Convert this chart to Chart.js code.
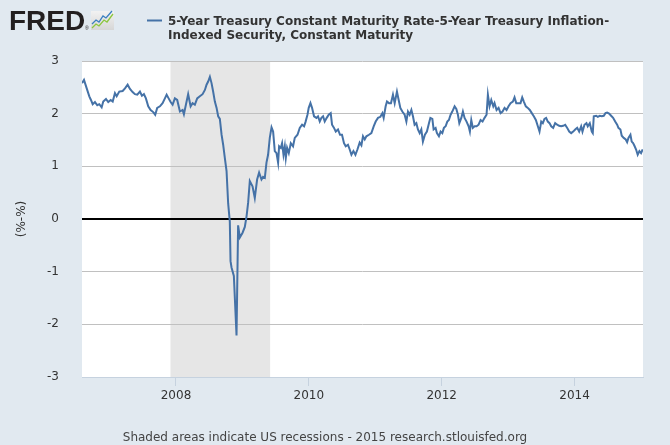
<!DOCTYPE html>
<html>
<head>
<meta charset="utf-8">
<title>5-Year Breakeven Inflation</title>
<script src="https://cdn.jsdelivr.net/npm/chart.js@4.4.1/dist/chart.umd.min.js"></script>
<style>
  html, body { margin: 0; padding: 0; background: #e1e9f0; }
  #wrap { width: 670px; height: 445px; }
</style>
</head>
<body>
<div id="wrap"><canvas id="spreadChart" width="670" height="445"></canvas></div>
<script>
// --- DATA ---
// dates as decimal years, values in percentage points
const dates = [
  2006.585, 2006.615, 2006.656, 2006.695, 2006.720, 2006.746, 2006.780, 2006.815, 2006.845, 2006.881,
  2006.905, 2006.946, 2006.980, 2007.017, 2007.047, 2007.081, 2007.107, 2007.146, 2007.197, 2007.232,
  2007.272, 2007.307, 2007.347, 2007.382, 2007.417, 2007.457, 2007.487, 2007.517, 2007.547, 2007.582,
  2007.618, 2007.657, 2007.687, 2007.717, 2007.758, 2007.798, 2007.833, 2007.859, 2007.889, 2007.919,
  2007.949, 2007.983, 2008.018, 2008.059, 2008.099, 2008.119, 2008.149, 2008.183, 2008.220, 2008.250,
  2008.284, 2008.319, 2008.359, 2008.400, 2008.435, 2008.460, 2008.484, 2008.510, 2008.535, 2008.559,
  2008.585, 2008.611, 2008.635, 2008.660, 2008.686, 2008.710, 2008.735, 2008.761, 2008.785, 2008.810,
  2008.821, 2008.836, 2008.871, 2008.911, 2008.935, 2008.961, 2009.002, 2009.036, 2009.062, 2009.086,
  2009.111, 2009.152, 2009.186, 2009.221, 2009.251, 2009.287, 2009.311, 2009.337, 2009.362, 2009.386,
  2009.412, 2009.438, 2009.462, 2009.487, 2009.513, 2009.537, 2009.552, 2009.577, 2009.597, 2009.618,
  2009.638, 2009.653, 2009.672, 2009.698, 2009.728, 2009.762, 2009.788, 2009.829, 2009.863, 2009.898,
  2009.928, 2009.949, 2009.979, 2009.998, 2010.024, 2010.048, 2010.078, 2010.114, 2010.138, 2010.164,
  2010.189, 2010.214, 2010.239, 2010.269, 2010.299, 2010.329, 2010.349, 2010.379, 2010.405, 2010.439,
  2010.469, 2010.499, 2010.529, 2010.555, 2010.589, 2010.615, 2010.641, 2010.671, 2010.701, 2010.731,
  2010.765, 2010.791, 2010.815, 2010.841, 2010.866, 2010.905, 2010.941, 2010.976, 2011.006, 2011.041,
  2011.077, 2011.107, 2011.126, 2011.156, 2011.176, 2011.206, 2011.236, 2011.266, 2011.292, 2011.326,
  2011.352, 2011.377, 2011.407, 2011.442, 2011.468, 2011.492, 2011.517, 2011.543, 2011.567, 2011.592,
  2011.618, 2011.642, 2011.668, 2011.693, 2011.717, 2011.747, 2011.777, 2011.808, 2011.829, 2011.859,
  2011.878, 2011.908, 2011.928, 2011.958, 2011.983, 2012.009, 2012.033, 2012.059, 2012.084, 2012.108,
  2012.134, 2012.159, 2012.194, 2012.220, 2012.244, 2012.265, 2012.295, 2012.319, 2012.344, 2012.374,
  2012.405, 2012.424, 2012.445, 2012.469, 2012.495, 2012.525, 2012.555, 2012.585, 2012.615, 2012.645,
  2012.675, 2012.695, 2012.720, 2012.746, 2012.776, 2012.795, 2012.826, 2012.856, 2012.886, 2012.916,
  2012.946, 2012.976, 2013.006, 2013.036, 2013.071, 2013.096, 2013.122, 2013.156, 2013.186, 2013.212,
  2013.236, 2013.266, 2013.296, 2013.326, 2013.356, 2013.386, 2013.417, 2013.447, 2013.472, 2013.498,
  2013.522, 2013.547, 2013.572, 2013.597, 2013.623, 2013.648, 2013.678, 2013.708, 2013.738, 2013.768,
  2013.798, 2013.829, 2013.859, 2013.889, 2013.919, 2013.949, 2013.979, 2014.009, 2014.039, 2014.069,
  2014.099, 2014.119, 2014.149, 2014.179, 2014.198, 2014.229, 2014.259, 2014.274, 2014.289, 2014.325,
  2014.349, 2014.379, 2014.409, 2014.439, 2014.465, 2014.490, 2014.520, 2014.550, 2014.580, 2014.611,
  2014.641, 2014.660, 2014.690, 2014.710, 2014.740, 2014.770, 2014.791, 2014.811, 2014.841, 2014.860,
  2014.881, 2014.901, 2014.926, 2014.950, 2014.976, 2015.001, 2015.025
];
const spread = [
  2.58, 2.64, 2.48, 2.33, 2.26, 2.18, 2.22, 2.16, 2.18, 2.12,
  2.23, 2.28, 2.22, 2.26, 2.23, 2.39, 2.33, 2.42, 2.43, 2.48,
  2.55, 2.47, 2.41, 2.37, 2.36, 2.42, 2.34, 2.37, 2.29, 2.14,
  2.07, 2.03, 1.98, 2.11, 2.14, 2.20, 2.29, 2.36, 2.29, 2.22,
  2.17, 2.29, 2.26, 2.04, 2.07, 1.99, 2.17, 2.37, 2.14, 2.20,
  2.17, 2.29, 2.33, 2.37, 2.45, 2.55, 2.61, 2.70, 2.58, 2.42,
  2.23, 2.11, 1.95, 1.90, 1.60, 1.41, 1.16, 0.91, 0.30, -0.05,
  -0.80, -0.92, -1.08, -2.21, -0.12, -0.35, -0.26, -0.15, 0.05, 0.31,
  0.72, 0.62, 0.40, 0.75, 0.88, 0.75, 0.80, 0.78, 1.07, 1.22,
  1.54, 1.74, 1.66, 1.29, 1.25, 1.07, 1.38, 1.35, 1.44, 1.22,
  1.38, 1.16, 1.35, 1.25, 1.44, 1.38, 1.54, 1.60, 1.73, 1.79,
  1.76, 1.84, 1.98, 2.11, 2.20, 2.11, 1.95, 1.92, 1.95, 1.85,
  1.92, 1.95, 1.85, 1.92, 1.98, 2.01, 1.79, 1.73, 1.66, 1.70,
  1.60, 1.60, 1.44, 1.38, 1.41, 1.32, 1.22, 1.29, 1.22, 1.32,
  1.45, 1.40, 1.57, 1.51, 1.57, 1.60, 1.63, 1.76, 1.85, 1.92,
  1.94, 2.01, 1.92, 2.14, 2.23, 2.20, 2.20, 2.36, 2.20, 2.42,
  2.26, 2.11, 2.04, 1.98, 1.85, 2.04, 1.98, 2.07, 1.95, 1.79,
  1.82, 1.70, 1.63, 1.70, 1.47, 1.60, 1.66, 1.82, 1.92, 1.90,
  1.70, 1.73, 1.63, 1.57, 1.66, 1.63, 1.73, 1.76, 1.85, 1.88,
  1.98, 2.04, 2.14, 2.09, 1.98, 1.82, 1.92, 2.04, 1.92, 1.85,
  1.76, 1.66, 1.88, 1.73, 1.76, 1.76, 1.79, 1.88, 1.85, 1.92,
  1.98, 2.36, 2.14, 2.26, 2.14, 2.20, 2.07, 2.11, 2.01, 2.04,
  2.11, 2.07, 2.14, 2.20, 2.23, 2.31, 2.20, 2.20, 2.20, 2.31,
  2.23, 2.14, 2.11, 2.07, 2.01, 1.95, 1.88, 1.76, 1.66, 1.85,
  1.82, 1.90, 1.92, 1.85, 1.82, 1.76, 1.73, 1.82, 1.79, 1.77,
  1.76, 1.77, 1.79, 1.73, 1.66, 1.63, 1.66, 1.70, 1.73, 1.66,
  1.76, 1.66, 1.79, 1.82, 1.76, 1.82, 1.66, 1.63, 1.95, 1.96,
  1.94, 1.96, 1.95, 1.96, 2.01, 2.02, 2.00, 1.96, 1.92, 1.85,
  1.79, 1.73, 1.70, 1.58, 1.54, 1.51, 1.46, 1.54, 1.60, 1.47,
  1.44, 1.39, 1.32, 1.22, 1.29, 1.25, 1.32
];

const xRange = [2006.585, 2015.03];
const xTicks = [2008, 2010, 2012, 2014];
const yTicks = [-3, -2, -1, 0, 1, 2, 3];
// NBER recession: Dec 2007 - Jun 2009
const recessionStart = [2007.917];
const recessionEnd = [2009.417];

const seriesName = ['5-Year Treasury Constant Maturity Rate-5-Year Treasury Inflation-',
                    'Indexed Security, Constant Maturity'];
const footerText = 'Shaded areas indicate US recessions - 2015 research.stlouisfed.org';

// --- LOOK ---
const FONT = "'DejaVu Sans', Verdana, sans-serif";
const LINE_BLUE = '#4572a7';
const BG = '#e1e9f0';

// background, recession bars, logo, legend and footer
const fredDecor = {
  id: 'fredDecor',
  beforeDraw(chart) {
    const { ctx, chartArea: a } = chart;
    const xs = chart.scales.x;
    ctx.save();
    ctx.fillStyle = BG;
    ctx.fillRect(0, 0, chart.width, chart.height);
    ctx.fillStyle = '#ffffff';
    ctx.fillRect(a.left, a.top, a.right - a.left, a.bottom - a.top);
    ctx.fillStyle = '#e6e6e6';
    recessionStart.forEach((s, i) => {
      const x0 = xs.getPixelForValue(s);
      const x1 = xs.getPixelForValue(recessionEnd[i]);
      ctx.fillRect(x0, a.top, x1 - x0, a.bottom - a.top);
    });
    ctx.restore();
  },
  afterDraw(chart) {
    const ctx = chart.ctx;
    ctx.save();

    // FRED logo
    ctx.fillStyle = '#231f20';
    ctx.font = "bold 28px 'Liberation Sans', Arial, sans-serif";
    ctx.textBaseline = 'alphabetic';
    ctx.fillText('FRED', 9, 30);
    ctx.font = "5px 'Liberation Sans', sans-serif";
    ctx.fillText('®', 85, 30);
    // little graph icon next to it
    const g = ctx.createLinearGradient(0, 11, 0, 30);
    g.addColorStop(0, '#f2f2f2');
    g.addColorStop(1, '#d6d6d6');
    ctx.fillStyle = g;
    ctx.fillRect(91, 11, 23, 19);
    ctx.lineWidth = 1.3;
    ctx.strokeStyle = '#8cc63f';
    ctx.beginPath();
    ctx.moveTo(92, 28); ctx.lineTo(96, 24); ctx.lineTo(99, 26); ctx.lineTo(104, 20);
    ctx.lineTo(107, 22); ctx.lineTo(113, 14);
    ctx.stroke();
    ctx.strokeStyle = '#3a7fc1';
    ctx.beginPath();
    ctx.moveTo(92, 24); ctx.lineTo(96, 20); ctx.lineTo(99, 22); ctx.lineTo(103, 16);
    ctx.lineTo(106, 18); ctx.lineTo(112, 11);
    ctx.stroke();

    // legend
    ctx.strokeStyle = LINE_BLUE;
    ctx.lineWidth = 2;
    ctx.beginPath();
    ctx.moveTo(147, 20.5); ctx.lineTo(162, 20.5);
    ctx.stroke();
    ctx.fillStyle = '#333333';
    ctx.font = 'bold 12px ' + FONT;
    ctx.fillText(seriesName[0], 168, 25);
    ctx.fillText(seriesName[1], 168, 39);

    // footer
    ctx.fillStyle = '#444444';
    ctx.font = '12px ' + FONT;
    ctx.textAlign = 'center';
    ctx.fillText(footerText, 325, 441);
    ctx.restore();
  }
};

const points = dates.map((d, i) => ({ x: d, y: spread[i] }));

new Chart(document.getElementById('spreadChart'), {
  type: 'line',
  data: {
    datasets: [{
      label: seriesName.join(' '),
      data: points,
      borderColor: LINE_BLUE,
      borderWidth: 2,
      pointRadius: 0,
      tension: 0,
      fill: false
    }]
  },
  options: {
    responsive: false,
    animation: false,
    devicePixelRatio: 1,
    layout: { padding: { top: 61, right: 27, left: 0, bottom: 0 } },
    plugins: {
      legend: { display: false },
      tooltip: { enabled: false },
      title: { display: false }
    },
    scales: {
      x: {
        type: 'linear',
        min: xRange[0],
        max: xRange[1],
        afterBuildTicks: s => { s.ticks = xTicks.map(v => ({ value: v })); },
        afterFit: s => { s.height = 68; },
        grid: { drawOnChartArea: false, drawTicks: true, tickLength: 9, color: '#c6d2df' },
        border: { color: '#c6d2df', width: 1 },
        ticks: {
          color: '#333333',
          font: { family: FONT, size: 12 },
          padding: 3,
          maxRotation: 0,
          autoSkip: false,
          callback: v => String(v)
        }
      },
      y: {
        min: -3,
        max: 3,
        afterBuildTicks: s => { s.ticks = yTicks.map(v => ({ value: v })); },
        afterFit: s => { s.width = 82; },
        grid: {
          drawTicks: false,
          color: c => c.tick.value === 0 ? '#000000' : (c.tick.value === -3 ? 'rgba(0,0,0,0)' : '#c0c0c0'),
          lineWidth: c => c.tick.value === 0 ? 2 : 1
        },
        border: { display: false },
        ticks: {
          color: '#333333',
          font: { family: FONT, size: 12 },
          padding: 23
        },
        title: {
          display: true,
          text: '(%-%)',
          color: '#333333',
          font: { family: FONT, size: 12 },
          padding: { top: 15, bottom: 0 }
        }
      }
    }
  },
  plugins: [fredDecor]
});
</script>
</body>
</html>
